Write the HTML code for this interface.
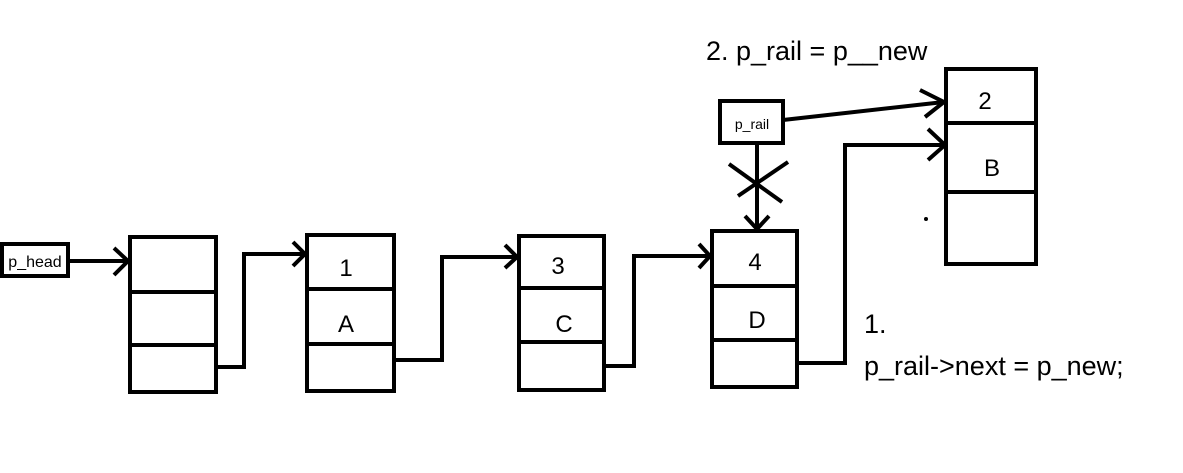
<!DOCTYPE html>
<html><head><meta charset="utf-8"><style>
html,body{margin:0;padding:0;background:#fff;}
svg{display:block;}
text{font-family:"Liberation Sans",sans-serif;fill:#000;}
</style></head><body>
<svg width="1183" height="473" viewBox="0 0 1183 473" xmlns="http://www.w3.org/2000/svg">
<g fill="none" stroke="#000" stroke-width="4">
<rect x="2" y="244" width="66" height="32"/>
<rect x="130" y="237" width="86" height="155"/>
<line x1="130" y1="292" x2="216" y2="292"/><line x1="130" y1="345" x2="216" y2="345"/>
<rect x="307" y="235" width="87" height="156"/>
<line x1="307" y1="289" x2="394" y2="289"/><line x1="307" y1="344" x2="394" y2="344"/>
<rect x="519" y="236" width="85" height="154"/>
<line x1="519" y1="288" x2="604" y2="288"/><line x1="519" y1="342" x2="604" y2="342"/>
<rect x="712" y="231" width="85" height="156"/>
<line x1="712" y1="286" x2="797" y2="286"/><line x1="712" y1="340" x2="797" y2="340"/>
<rect x="946" y="69" width="90" height="195"/>
<line x1="946" y1="123" x2="1036" y2="123"/><line x1="946" y1="192" x2="1036" y2="192"/>
<rect x="720" y="101" width="63" height="42"/>
<polyline points="68,261 128,261"/><polyline points="114,248 128,261 114,275"/>
<polyline points="216,367 244,367 244,254 305,254"/><polyline points="293,242 305,254 293,266"/>
<polyline points="394,360 442,360 442,257 517,257"/><polyline points="505,245 517,257 505,268"/>
<polyline points="606,366 634,366 634,256 710,256"/><polyline points="699,244 710,256 699,268"/>
<polyline points="797,363 845,363 845,145 945,145"/><polyline points="928,129 945,145 928,160"/>
<polyline points="783,120 944,102"/><polyline points="920,90 944,102 925,117"/>
<polyline points="757,143 757,229"/><polyline points="745,216 757,229 769,216"/>
<line x1="729" y1="164" x2="782" y2="202"/><line x1="738" y1="196" x2="788" y2="162"/>
</g>
<circle cx="926" cy="219" r="2" fill="#000"/>
<text x="35" y="267" font-size="16" text-anchor="middle">p_head</text>
<text x="752" y="129" font-size="14" text-anchor="middle">p_rail</text>
<text x="346" y="276" font-size="24" text-anchor="middle">1</text>
<text x="346" y="332" font-size="24" text-anchor="middle">A</text>
<text x="558" y="274" font-size="24" text-anchor="middle">3</text>
<text x="564" y="332" font-size="24" text-anchor="middle">C</text>
<text x="755" y="270" font-size="24" text-anchor="middle">4</text>
<text x="757" y="328" font-size="24" text-anchor="middle">D</text>
<text x="985" y="109" font-size="24" text-anchor="middle">2</text>
<text x="992" y="176" font-size="24" text-anchor="middle">B</text>
<text x="706" y="60" font-size="27">2. p_rail = p__new</text>
<text x="864" y="333" font-size="27">1.</text>
<text x="864" y="375" font-size="27">p_rail-&gt;next = p_new;</text>
</svg>
</body></html>
